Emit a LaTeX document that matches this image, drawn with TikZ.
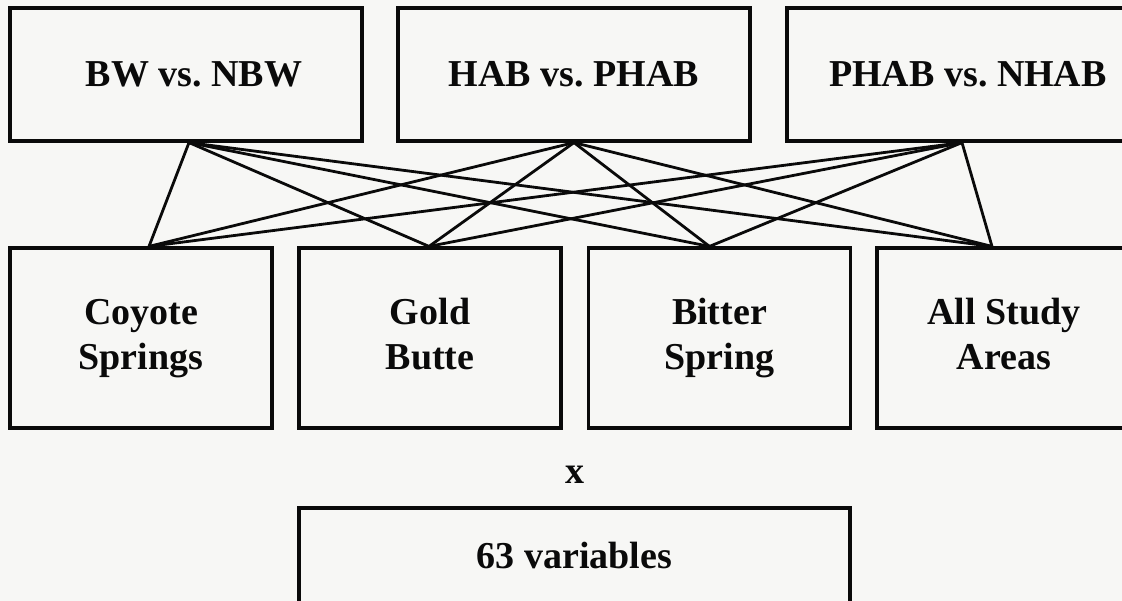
\documentclass[tikz,border=0pt]{standalone}
\usepackage{fontspec}
\setmainfont{Liberation Serif}
\frenchspacing
\definecolor{bgc}{RGB}{247,247,245}
\definecolor{inkc}{RGB}{10,10,10}
\begin{document}
\begin{tikzpicture}[x=1pt,y=-1pt,
  box/.style={draw=inkc,line width=3.2pt,inner sep=0pt,align=center,
    font=\bfseries\fontsize{38}{45}\selectfont,text=inkc},
  topbox/.style={box,minimum width=352pt,minimum height=133pt},
  midbox/.style={box,minimum width=262pt,minimum height=180pt},
  link/.style={draw=inkc,line width=2.8pt}]
\fill[bgc] (0,0) rectangle (1122,601);
\useasboundingbox (0,0) rectangle (1122,601);
\clip (0,0) rectangle (1122,601);
\node[topbox] (t1) at (186,74.5) {\hspace*{16pt}BW vs. NBW};
\node[topbox] (t2) at (574,74.5) {HAB vs. PHAB};
\node[topbox] (t3) at (963,74.5) {\hspace*{10pt}PHAB vs. NHAB};
\node[midbox] (m1) at (141,338) {\strut Coyote\\\strut Springs};
\node[midbox] (m2) at (430,338) {\strut Gold\\\strut Butte};
\node[midbox] (m3) at (719.5,338) {\strut Bitter\\\strut Spring};
\node[midbox] (m4) at (1008,338) {\strut All Study\hspace*{8pt}\\\strut Areas\hspace*{8pt}};
\node[box,draw=none] (x) at (575,475) {x};
\node[box,minimum width=551pt,minimum height=95pt] (v) at (574.5,555.5) {63 variables};
\coordinate (p1) at ([xshift=3pt]t1.south);
\coordinate (p2) at (t2.south);
\coordinate (p3) at ([xshift=-1pt]t3.south);
\coordinate (q1) at ([xshift=8pt]m1.north);
\coordinate (q2) at ([xshift=-1pt]m2.north);
\coordinate (q3) at ([xshift=-10pt]m3.north);
\coordinate (q4) at ([xshift=-16pt]m4.north);
\foreach \p in {p1,p2,p3}{
  \foreach \q in {q1,q2,q3,q4}{
    \draw[link] (\p) -- (\q);
  }
}
\end{tikzpicture}
\end{document}
